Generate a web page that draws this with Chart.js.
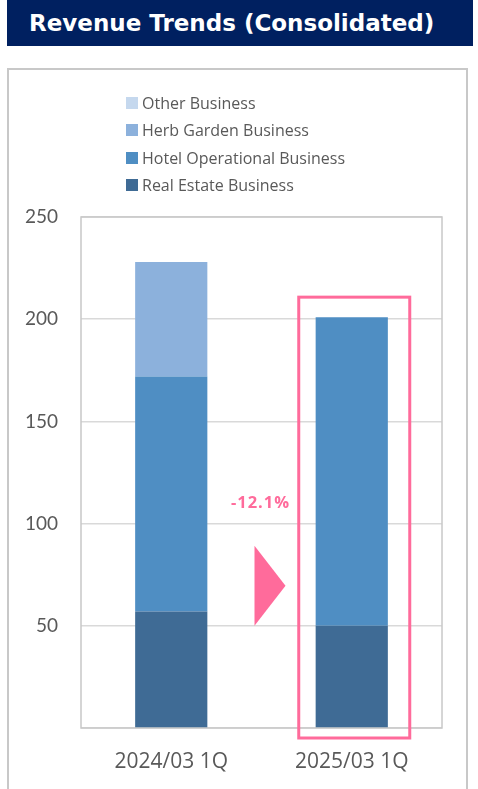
<!DOCTYPE html>
<html>
<head>
<meta charset="utf-8">
<script src="https://cdn.jsdelivr.net/npm/chart.js@4"></script>
<style>
  body { margin: 0; background: #fff; }
  #wrap { position: relative; width: 478px; height: 789px; overflow: hidden; }
  #title {
    position: absolute; left: 7px; top: 0; width: 466px; height: 46px;
    background: #002060; color: #fff;
    font: bold 23px "DejaVu Sans", sans-serif;
    line-height: 46px; padding-left: 22px; box-sizing: border-box;
  }
  #box {
    position: absolute; left: 7px; top: 68px; width: 461px; height: 740px;
    border: 2px solid #c8c8c8; box-sizing: border-box;
  }
  #legend {
    position: absolute; left: 126px; top: 92px;
    font: 16px "Open Sans", sans-serif; color: #595959;
  }
  #legend div { height: 27.3px; display: flex; align-items: flex-start; }
  #legend span.sw { width: 12px; height: 12px; margin: 5px 4px 0 0; display: inline-block; }
  #chart { position: absolute; left: 0; top: 0; }
</style>
</head>
<body>
<div id="wrap">
  <div id="title">Revenue Trends (Consolidated)</div>
  <div id="box"></div>
  <canvas id="chart" width="478" height="789"></canvas>
  <div id="legend"></div>
</div>
<script>
//---------------------- data ----------------------
var categories = ["2024/03 1Q", "2025/03 1Q"];
var realEstate = [57, 50];
var hotel = [115, 151];
var herbGarden = [56, 0];
var other = [0, 0];
var yTicks = [50, 100, 150, 200, 250];
var changeLabel = "-12.1%";

var seriesNames = ["Real Estate Business", "Hotel Operational Business", "Herb Garden Business", "Other Business"];
var seriesColors = ["#3f6b95", "#4f8ec3", "#8cb1dc", "#c5d8ee"];
var seriesData = [realEstate, hotel, herbGarden, other];
var pink = "#ff6b9b";

//---------------------- legend (top item = last series) ----------------------
var legend = document.getElementById("legend");
for (var i = seriesNames.length - 1; i >= 0; i--) {
    var row = document.createElement("div");
    row.innerHTML = '<span class="sw" style="background:' + seriesColors[i] + '"></span>' + seriesNames[i];
    legend.appendChild(row);
}

//---------------------- plot frame + annotation ----------------------
var framePlugin = {
    id: "frame",
    beforeDatasetsDraw: function (chart) {
        var a = chart.chartArea, ctx = chart.ctx;
        ctx.save();
        ctx.strokeStyle = "#c8c8c8";
        ctx.lineWidth = 1.5;
        ctx.strokeRect(a.left, a.top, a.right - a.left, a.bottom - a.top);
        ctx.restore();
    },
    afterDatasetsDraw: function (chart) {
        var ctx = chart.ctx, x = chart.scales.x, y = chart.scales.y;
        var c1 = x.getPixelForValue(1);
        var c0 = x.getPixelForValue(0);
        var total2 = 0;
        for (var i = 0; i < seriesData.length; i++) total2 += seriesData[i][1];
        ctx.save();
        // box round the second bar
        ctx.strokeStyle = pink;
        ctx.lineWidth = 3;
        var top = y.getPixelForValue(total2) - 20;
        var bottom = y.getPixelForValue(0) + 10;
        ctx.strokeRect(c1 - 53, top, 111, bottom - top);
        // arrow
        var mid = (c0 + c1) / 2;
        var yb = y.getPixelForValue(50);
        ctx.fillStyle = pink;
        ctx.beginPath();
        ctx.moveTo(mid - 7, yb);
        ctx.lineTo(mid - 7, yb - 80);
        ctx.lineTo(mid + 24, yb - 40);
        ctx.closePath();
        ctx.fill();
        // percentage
        ctx.font = "bold 16.5px 'Open Sans', sans-serif";
        ctx.letterSpacing = "1px";
        ctx.textAlign = "center";
        ctx.textBaseline = "middle";
        ctx.fillText(changeLabel, mid - 1, y.getPixelForValue(110));
        ctx.restore();
    }
};

//---------------------- chart ----------------------
var datasets = [];
for (var k = 0; k < seriesNames.length; k++) {
    datasets.push({
        label: seriesNames[k],
        data: seriesData[k],
        backgroundColor: seriesColors[k],
        borderWidth: 0,
        barPercentage: 0.4,
        categoryPercentage: 1
    });
}

new Chart(document.getElementById("chart"), {
    type: "bar",
    data: { labels: categories, datasets: datasets },
    options: {
        responsive: false,
        animation: false,
        layout: { padding: { left: 0, right: 36, top: 217, bottom: 0 } },
        plugins: { legend: { display: false }, tooltip: { enabled: false } },
        scales: {
            x: {
                stacked: true,
                grid: { display: false },
                border: { display: false },
                ticks: { color: "#595959", font: { family: "Open Sans", size: 21 }, padding: 13 },
                afterFit: function (s) { s.height = 61; }
            },
            y: {
                stacked: true,
                min: 0,
                max: 250,
                afterBuildTicks: function (s) {
                    s.ticks = [0].concat(yTicks).map(function (v) { return { value: v }; });
                },
                grid: { color: "#d9d9d9", lineWidth: 1.5, drawTicks: false },
                border: { display: false },
                ticks: {
                    color: "#595959",
                    font: { family: "Lato", size: 19 },
                    padding: 23,
                    callback: function (v) { return v === 0 ? "" : v; }
                },
                afterFit: function (s) { s.width = 81; }
            }
        }
    },
    plugins: [framePlugin]
});
</script>
</body>
</html>
